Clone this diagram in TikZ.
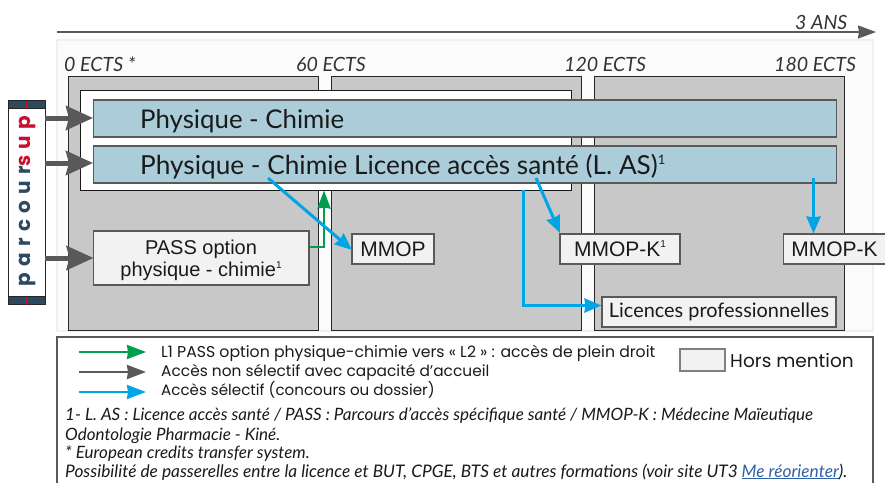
\documentclass[tikz,border=0pt]{standalone}
\usepackage{fontspec}
\usepackage{xcolor}
\usetikzlibrary{arrows.meta}
\setmainfont{Lato}
\newfontfamily\legfont{Poppins}
\newfontfamily\arialfont{Liberation Sans}
\newfontfamily\spacedfont[LetterSpace=31]{Poppins}
\newcommand\supnum[2]{\raisebox{#2pt}{\fontsize{#1}{#1}\selectfont 1}}
\definecolor{panelbg}{HTML}{FBFBFB}
\definecolor{panelln}{HTML}{F0F0F0}
\definecolor{yearbg}{HTML}{C8C8C8}
\definecolor{barbg}{HTML}{ABCDDA}
\definecolor{hmbg}{HTML}{F2F2F2}
\definecolor{arrgray}{HTML}{595959}
\definecolor{arrblue}{HTML}{00A5E6}
\definecolor{arrgreen}{HTML}{009F4D}
\definecolor{pnavy}{HTML}{2B4A60}
\definecolor{pred}{HTML}{C8102E}
\definecolor{linkblue}{HTML}{2E62A8}
\definecolor{txt}{HTML}{1A1A1A}
\tikzset{
  rect/.style={rectangle,anchor=north west,inner sep=0pt,outer sep=0pt},
  year/.style={rect,fill=yearbg,draw=black!85,line width=1pt,minimum width=250pt,minimum height=254pt},
  bar/.style={rect,fill=barbg,draw=arrgray,line width=1.2pt,minimum width=743pt},
  hm/.style={rect,fill=hmbg,draw=arrgray,line width=1.1pt},
  ects/.style={anchor=base west,inner sep=0pt,font=\itshape\fontsize{19.6}{19.6}\selectfont,text=black!80},
  legt/.style={anchor=base west,inner sep=0pt,font=\legfont\fontsize{15.4}{15.4}\selectfont,text=txt},
  note/.style={anchor=base west,inner sep=0pt,font=\itshape\fontsize{17}{17}\selectfont,text=txt},
  gray arrow/.style={draw=arrgray,line width=5pt,-{Stealth[length=27pt,width=24pt,inset=3pt,fill=arrgray]}},
  blue arrow/.style={draw=arrblue,line width=3pt,-{Stealth[length=17pt,width=14pt,inset=1pt,fill=arrblue]}},
  green arrow/.style={draw=arrgreen,line width=2.6pt,-{Stealth[length=18pt,width=13pt,inset=1pt,fill=arrgreen]}},
  leg arrow/.style={line width=2.4pt,-{Stealth[length=19pt,width=14pt,inset=1pt]}},
}
\begin{document}
\begin{tikzpicture}[x=1pt,y=-1pt]
\useasboundingbox (0,0) rectangle (885,482);
% panel
\node[rect,fill=panelbg,draw=panelln,line width=1.5pt,minimum width=816pt,minimum height=291pt] (panel) at (57,40) {};
% timeline
\coordinate (tlS) at (57,32);
\coordinate (tlE) at (876,32);
\draw[draw=arrgray,line width=2pt,-{Stealth[length=18pt,width=13pt,inset=1pt,fill=arrgray]}] (tlS) -- (tlE);
\node[ects] (ans) at (795,29) {3 ANS};
\node[ects] (e0) at (64,71) {0 ECTS *};
\node[ects] (e60) at (296,71) {60 ECTS};
\node[ects] (e120) at (564,71) {120 ECTS};
\node[ects] (e180) at (774,71) {180 ECTS};
% years
\node[year] (y1) at (68,76) {};
\node[year] (y2) at (331,76) {};
\node[year] (y3) at (594,76) {};
% white box
\node[rect,fill=white,draw=black!90,line width=1pt,minimum width=491pt,minimum height=100pt] (wbox) at (80,90) {};
% bars
\node[bar,minimum height=37pt] (bar1) at (93.5,100) {};
\node[bar,minimum height=37pt] (bar2) at (93.5,146) {};
\node[anchor=base west,inner sep=0pt,font=\fontsize{25.8}{25.8}\selectfont,text=txt] (t1) at (140,128) {Physique - Chimie};
\node[anchor=base west,inner sep=0pt,font=\fontsize{26.2}{26.2}\selectfont,text=txt] (t2) at (140,174) {Physique - Chimie Licence accès santé (L. AS)\supnum{13}{10}};
% parcoursup
\node[rect,fill=white,draw=black!85,line width=1pt,minimum width=37pt,minimum height=204pt] (ps) at (8,100.5) {};
\node[rect,fill=pnavy,draw=black!85,line width=.8pt,minimum width=37pt,minimum height=8pt] (pstop) at (8,100.5) {};
\node[rect,fill=pnavy,draw=black!85,line width=.8pt,minimum width=37pt,minimum height=8pt] (psbot) at (8,296.5) {};
\draw[pred,line width=1pt] (pstop.north) -- (pstop.south);
\draw[pred,line width=1pt] (psbot.north) -- (psbot.south);
\node[rotate=90,inner sep=0pt,font=\spacedfont\bfseries\fontsize{20}{20}\selectfont] (pslab) at (27,201) {\textcolor{pnavy}{parcour}\textcolor{pred}{sup}};
% hors mention boxes
\node[hm,minimum width=215.5pt,minimum height=54pt] (pass) at (93.5,231) {};
\node[font=\arialfont\fontsize{20}{22}\selectfont,align=center,inner sep=0pt,text=txt] (passt) at (201,260) {PASS option\\[0pt]physique - chimie\supnum{10}{8}};
\node[hm,minimum width=82pt,minimum height=30pt,font=\arialfont\fontsize{21}{21}\selectfont,text=txt] (mmop) at (352,234) {MMOP};
\node[hm,minimum width=120pt,minimum height=30pt,font=\arialfont\fontsize{21}{21}\selectfont,text=txt] (mmopk1) at (560,234) {MMOP-K\supnum{10}{9}};
\node[hm,minimum width=102pt,minimum height=30pt,font=\arialfont\fontsize{21}{21}\selectfont,text=txt] (mmopk) at (783.5,234) {MMOP-K};
\node[hm,minimum width=234pt,minimum height=30pt,font=\fontsize{19.9}{19.9}\selectfont,text=txt] (lp) at (602,297) {Licences professionnelles};
% connectors
\coordinate (g1s) at (45,118);
\coordinate (g1e) at (93,118);
\coordinate (g2s) at (45,163);
\coordinate (g2e) at (93,163);
\coordinate (g3s) at (45,258);
\draw[gray arrow] (g1s) -- (g1e);
\draw[gray arrow] (g2s) -- (g2e);
\draw[gray arrow] (g3s) -- (pass.west);
\coordinate (gs) at (309.5,247);
\coordinate (gm) at (324,247);
\coordinate (ge) at (324,190.5);
\draw[green arrow] (gs) -- (gm) -- (ge);
\coordinate (b1s) at (268,178);
\coordinate (b1e) at (352,250);
\draw[blue arrow] (b1s) -- (b1e);
\coordinate (b2s) at (536,178);
\coordinate (b2e) at (560,233);
\draw[blue arrow] (b2s) -- (b2e);
\coordinate (b3s) at (813.5,178);
\coordinate (b3e) at (813.5,233.5);
\draw[blue arrow] (b3s) -- (b3e);
\coordinate (b4s) at (523,190);
\coordinate (b4m) at (523,305.5);
\coordinate (b4e) at (601.5,305.5);
\draw[blue arrow] (b4s) -- (b4m) -- (b4e);
% legend
\node[rect,fill=white,draw=arrgray,line width=1.2pt,minimum width=816pt,minimum height=150pt] (leg) at (57,337) {};
\coordinate (la1) at (79,352); \coordinate (la1e) at (146,352);
\coordinate (la2) at (79,372); \coordinate (la2e) at (146,372);
\coordinate (la3) at (79,392); \coordinate (la3e) at (146,392);
\draw[leg arrow,arrgreen] (la1) -- (la1e);
\draw[leg arrow,arrgray] (la2) -- (la2e);
\draw[leg arrow,arrblue] (la3) -- (la3e);
\node[legt,font=\legfont\fontsize{15.7}{15.7}\selectfont] (lt1) at (161,357) {L1 PASS option physique-chimie vers « L2 » : accès de plein droit};
\node[legt] (lt2) at (161,376.5) {Accès non sélectif avec capacité d’accueil};
\node[legt,font=\legfont\fontsize{15.1}{15.1}\selectfont] (lt3) at (161,395.5) {Accès sélectif (concours ou dossier)};
\node[hm,minimum width=45pt,minimum height=22pt,draw=black!50] (hmsw) at (680,349) {};
\node[legt,font=\legfont\fontsize{18.5}{18.5}\selectfont] (hmt) at (730,367) {Hors mention};
\node[note] (n1) at (65,420.5) {1- L. AS : Licence accès santé / PASS : Parcours d’accès spécifique santé / MMOP-K : Médecine Maïeutique};
\node[note] (n2) at (65,440) {Odontologie Pharmacie - Kiné.};
\node[note] (n3) at (65,458) {* European credits transfer system.};
\node[note,font=\itshape\fontsize{17.3}{17.3}\selectfont] (n4) at (65,477) {Possibilité de passerelles entre la licence et BUT, CPGE, BTS et autres formations (voir site UT3 \textcolor{linkblue}{\underline{Me réorienter}}).};
\end{tikzpicture}
\end{document}
